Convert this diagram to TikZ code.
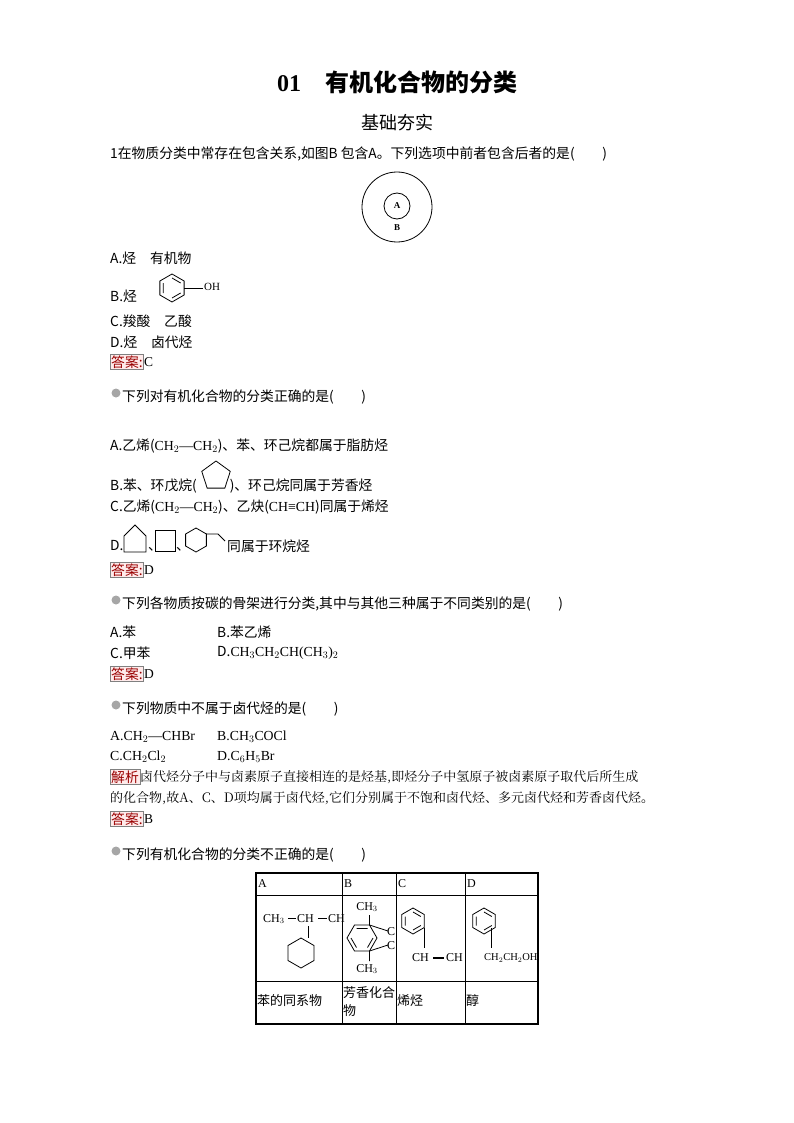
\documentclass[tikz,border=0pt]{standalone}
\usepackage{fontspec}
\setmainfont{Liberation Serif}
\newfontfamily\cjk{Noto Sans CJK SC}
\newfontfamily\cjks{Noto Serif CJK SC}
\begin{document}
\begin{tikzpicture}[x=1pt,y=-1pt,
  txt/.style={anchor=west,inner sep=0pt,font=\fontsize{13.8}{15}\cjk},
  ans/.style={anchor=west,inner sep=1pt,fill=red!8,draw=gray,text=red!60!black,font=\fontsize{13.8}{15}\cjk},
  ico/.style={circle,fill=gray!70,minimum size=9pt,inner sep=0pt},
  bond/.style={line width=0.8pt}]
\useasboundingbox (0,0) rectangle (794,1123);
\node (title) at (397,82) {\fontsize{24}{26}\selectfont\bfseries 01\quad{\cjk 有机化合物的分类}};
\node (sub) at (397,123) {\fontsize{18}{20}\cjk 基础夯实};
\node[txt] (q1) at (110,154) {1在物质分类中常存在包含关系,如图B 包含A。下列选项中前者包含后者的是(\qquad)};
\draw[bond] (397,207) circle (35);
\draw[bond] (397,206) circle (13);
\node[font=\fontsize{9}{10}\selectfont\bfseries] (la) at (397,206) {A};
\node[font=\fontsize{9}{10}\selectfont\bfseries] (lb) at (397,228) {B};
\node[txt] (o1a) at (110,258) {A.烃\quad 有机物};
\node[txt] (o1b) at (110,296) {B.烃};
\draw[bond] (172,288) +(90:14) -- +(30:14) -- +(-30:14) -- +(-90:14) -- +(-150:14) -- +(150:14) -- cycle;
\draw[bond] (172,288) +(90:10) -- +(30:10) +(-30:10) -- +(-90:10) +(-150:10) -- +(150:10);
\draw[bond] (184,288) -- (203,288);
\node[anchor=west,inner sep=0pt,font=\fontsize{11}{12}\selectfont] (oh) at (204,287) {OH};
\node[txt] (o1c) at (110,321) {C.羧酸\quad 乙酸};
\node[txt] (o1d) at (110,342) {D.烃\quad 卤代烃};
\node[ans] (a1) at (110,362) {答案:};
\node[anchor=west,inner sep=0pt,font=\fontsize{13.5}{14}\selectfont] at (a1.east) {C};
% Q2
\node[ico] (i2) at (116,393) {};
\node[txt] (q2) at (122,397) {下列对有机化合物的分类正确的是(\qquad)};
\node[txt] (o2a) at (110,446) {A.乙烯({\rmfamily CH$_2$—CH$_2$})、苯、环己烷都属于脂肪烃};
\node[txt] (o2b) at (110,486) {B.苯、环戊烷(\hspace{33pt})、环己烷同属于芳香烃};
\draw[bond] (216,476) +(-90:15) -- +(-18:15) -- +(54:15) -- +(126:15) -- +(198:15) -- cycle;
\node[txt] (o2c) at (110,507) {C.乙烯({\rmfamily CH$_2$—CH$_2$})、乙炔({\rmfamily CH≡CH})同属于烯烃};
\node[txt] (o2d) at (110,546) {D.};
\node[txt] at (148,549) {、};
\node[txt] at (176,549) {、};
\node[txt] (o2dt) at (227,546) {同属于环烷烃};
\draw[bond] (124,552) -- (124,536) -- (135,525) -- (146,536) -- (146,552) -- cycle;
\draw[bond] (155,530) rectangle (175,551);
\draw[bond] (196,540) +(90:12) -- +(30:12) -- +(-30:12) -- +(-90:12) -- +(-150:12) -- +(150:12) -- cycle;
\draw[bond] (206,534) -- (218,534) -- (225,541);
\node[ans] (a2) at (110,570) {答案:};
\node[anchor=west,inner sep=0pt,font=\fontsize{13.5}{14}\selectfont] at (a2.east) {D};
% Q3
\node[ico] (i3) at (116,600) {};
\node[txt] (q3) at (122,604) {下列各物质按碳的骨架进行分类,其中与其他三种属于不同类别的是(\qquad)};
\node[txt] (o3a) at (110,632) {A.苯};
\node[txt] (o3b) at (217,632) {B.苯乙烯};
\node[txt] (o3c) at (110,653) {C.甲苯};
\node[txt] (o3d) at (217,653) {D.{\rmfamily CH$_3$CH$_2$CH(CH$_3$)$_2$}};
\node[ans] (a3) at (110,674) {答案:};
\node[anchor=west,inner sep=0pt,font=\fontsize{13.5}{14}\selectfont] at (a3.east) {D};
% Q4
\node[ico] (i4) at (116,705) {};
\node[txt] (q4) at (122,709) {下列物质中不属于卤代烃的是(\qquad)};
\node[txt] (o4a) at (110,737) {\rmfamily A.CH$_2$—CHBr};
\node[txt] (o4b) at (217,737) {\rmfamily B.CH$_3$COCl};
\node[txt] (o4c) at (110,757) {\rmfamily C.CH$_2$Cl$_2$};
\node[txt] (o4d) at (217,757) {\rmfamily D.C$_6$H$_5$Br};
\node[ans] (j4) at (110,777) {解析};
\node[anchor=west,inner sep=0pt,font=\fontsize{13}{14}\cjks] (e1) at (j4.east) {卤代烃分子中与卤素原子直接相连的是烃基,即烃分子中氢原子被卤素原子取代后所生成};
\node[anchor=west,inner sep=0pt,font=\fontsize{13}{14}\cjks] (e2) at (110,798) {的化合物,故A、C、D项均属于卤代烃,它们分别属于不饱和卤代烃、多元卤代烃和芳香卤代烃。};
\node[ans] (a4) at (110,819) {答案:};
\node[anchor=west,inner sep=0pt,font=\fontsize{13.5}{14}\selectfont] at (a4.east) {B};
% Q5
\node[ico] (i5) at (116,851) {};
\node[txt] (q5) at (122,855) {下列有机化合物的分类不正确的是(\qquad)};
\draw[line width=2pt] (256,873) rectangle (538,1024);
\draw[line width=0.6pt] (342,873) -- (342,1024) (396,873) -- (396,1024) (465,873) -- (465,1024)
  (256,895) -- (538,895) (256,981) -- (538,981);
\begin{scope}[font=\fontsize{12}{13}\selectfont]
\node[anchor=west,inner sep=1pt] (ha) at (257,884) {A};
\node[anchor=west,inner sep=1pt] (hb) at (343,884) {B};
\node[anchor=west,inner sep=1pt] (hc) at (397,884) {C};
\node[anchor=west,inner sep=1pt] (hd) at (466,884) {D};
% A
\node[anchor=west,inner sep=0pt] at (263,919) {CH$_3$};
\draw[bond] (288,918) -- (296,918) (318,918) -- (327,918);
\node[anchor=west,inner sep=0pt] at (297,919) {CH};
\node[anchor=west,inner sep=0pt] at (328,919) {CH};
\draw[bond] (308,926) -- (308,938);
\draw[bond] (301,953) +(90:15) -- +(30:15) -- +(-30:15) -- +(-90:15) -- +(-150:15) -- +(150:15) -- cycle;
% B
\node at (367,907) {CH$_3$};
\node at (367,969) {CH$_3$};
\draw[bond] (362,938) +(0:15) -- +(60:15) -- +(120:15) -- +(180:15) -- +(240:15) -- +(300:15) -- cycle;
\draw[bond] (362,938) +(120:11) -- +(180:11) +(240:11) -- +(300:11) +(0:11) -- +(60:11);
\draw[bond] (369.5,925) -- (369.5,915) (369.5,951) -- (369.5,961)
  (369.5,925) -- (388,931) (369.5,951) -- (388,945);
\node[anchor=west,inner sep=0pt] at (387,932) {C};
\node[anchor=west,inner sep=0pt] at (387,946) {C};
% C
\draw[bond] (413,921) +(90:13) -- +(30:13) -- +(-30:13) -- +(-90:13) -- +(-150:13) -- +(150:13) -- cycle;
\draw[bond] (413,921) +(90:9) -- +(30:9) +(-30:9) -- +(-90:9) +(-150:9) -- +(150:9);
\draw[bond] (424,928) -- (424,948);
\node[anchor=west,inner sep=0pt] at (412,958) {CH};
\draw[line width=1.4pt] (433,958) -- (444,958);
\node[anchor=west,inner sep=0pt] at (446,958) {CH};
% D
\draw[bond] (484,921) +(90:13) -- +(30:13) -- +(-30:13) -- +(-90:13) -- +(-150:13) -- +(150:13) -- cycle;
\draw[bond] (484,921) +(90:9) -- +(30:9) +(-30:9) -- +(-90:9) +(-150:9) -- +(150:9);
\draw[bond] (491,928) -- (491,948);
\node[anchor=west,inner sep=0pt,font=\fontsize{10.5}{11}\selectfont] at (484,958) {CH$_2$CH$_2$OH};
\end{scope}
\node[txt,font=\fontsize{13}{15}\cjk] (ca) at (257,1001) {苯的同系物};
\node[txt,font=\fontsize{13}{18}\cjk,align=left] (cb) at (343,1002) {芳香化合\\物};
\node[txt,font=\fontsize{13}{15}\cjk] (cc) at (397,1001) {烯烃};
\node[txt,font=\fontsize{13}{15}\cjk] (cd) at (466,1001) {醇};
\end{tikzpicture}
\end{document}
